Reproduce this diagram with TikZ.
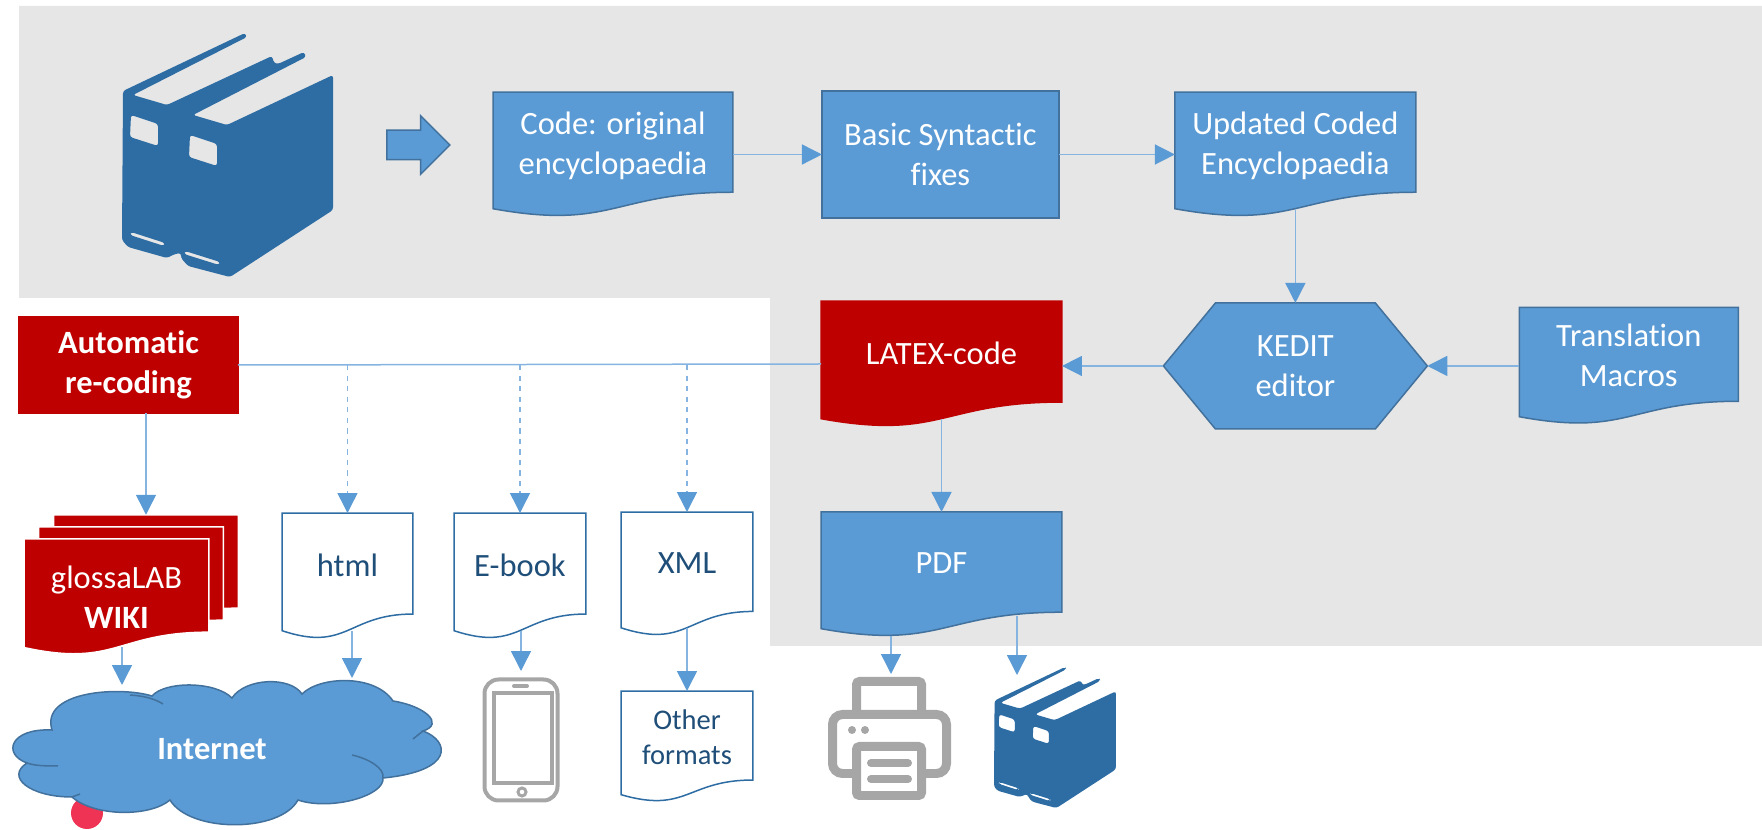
\documentclass[tikz,border=0pt]{standalone}
\usepackage{fontspec}
\setmainfont[Ligatures=NoCommon]{Carlito}
\usepackage {tikz}
\usetikzlibrary{shapes,arrows.meta,positioning}

\definecolor{boxblue}{HTML}{5B9BD5}
\definecolor{edgeblue}{HTML}{41719C}
\definecolor{lineblue}{HTML}{85B4E1}
\definecolor{bookblue}{HTML}{2E6DA4}
\definecolor{inkblue}{HTML}{1F4E79}
\definecolor{bgrey}{HTML}{E6E6E6}
\definecolor{icongrey}{HTML}{A6A6A6}
\definecolor{deepred}{HTML}{BF0000}
\definecolor{dotred}{HTML}{EE3355}

\newdimen\wavel \newdimen\waver \newdimen\wavet \newdimen\waveh \newdimen\wavem \newdimen\wavew
\makeatletter
\def\wavesetup{%
  \southwest \wavel=\pgf@x \waveh=-\pgf@y
  \northeast \waver=\pgf@x \wavet=\pgf@y
  \advance\waveh by \wavet
  \wavem=.5\wavel \advance\wavem by .5\waver
  \wavew=\waver \advance\wavew by -\wavel}
\pgfdeclareshape{docwave}{
  \inheritsavedanchors[from=rectangle]
  \inheritanchorborder[from=rectangle]
  \inheritanchor[from=rectangle]{center}
  \inheritanchor[from=rectangle]{north}
  \inheritanchor[from=rectangle]{south}
  \inheritanchor[from=rectangle]{west}
  \inheritanchor[from=rectangle]{east}
  \anchor{wave}{\wavesetup \pgfqpoint{\wavem}{\dimexpr\wavet-.933\waveh\relax}}
  \backgroundpath{
    \wavesetup
    \pgfpathmoveto{\pgfqpoint{\wavel}{\wavet}}
    \pgfpathlineto{\pgfqpoint{\waver}{\wavet}}
    \pgfpathlineto{\pgfqpoint{\waver}{\dimexpr\wavet-.802\waveh\relax}}
    \pgfpathcurveto{\pgfqpoint{\wavem}{\dimexpr\wavet-.802\waveh\relax}}
      {\pgfqpoint{\wavem}{\dimexpr\wavet-1.1075\waveh\relax}}
      {\pgfqpoint{\wavel}{\dimexpr\wavet-.934\waveh\relax}}
    \pgfpathclose
  }
}
\pgfdeclareshape{hexbox}{
  \inheritsavedanchors[from=rectangle]
  \inheritanchorborder[from=rectangle]
  \inheritanchor[from=rectangle]{center}
  \inheritanchor[from=rectangle]{north}
  \inheritanchor[from=rectangle]{south}
  \inheritanchor[from=rectangle]{west}
  \inheritanchor[from=rectangle]{east}
  \backgroundpath{
    \wavesetup
    \pgfpathmoveto{\pgfqpoint{\wavel}{\dimexpr\wavet-.5\waveh\relax}}
    \pgfpathlineto{\pgfqpoint{\dimexpr\wavel+.197\wavew\relax}{\wavet}}
    \pgfpathlineto{\pgfqpoint{\dimexpr\waver-.197\wavew\relax}{\wavet}}
    \pgfpathlineto{\pgfqpoint{\waver}{\dimexpr\wavet-.5\waveh\relax}}
    \pgfpathlineto{\pgfqpoint{\dimexpr\waver-.197\wavew\relax}{\dimexpr\wavet-\waveh\relax}}
    \pgfpathlineto{\pgfqpoint{\dimexpr\wavel+.197\wavew\relax}{\dimexpr\wavet-\waveh\relax}}
    \pgfpathclose
  }
}
\makeatother

\tikzset{
  bookicon/.pic={
    \fill [bookblue, even odd rule, rounded corners=1.5pt, shift={(-122,-33)}]
      (123,91) -- (245,33) -- (247,37) -- (133,95) -- (167,105) -- (272,56) -- (274,63)
      -- (278,64) -- (304,52) -- (306,57) -- (193,115) -- (227,125) -- (333,75) -- (333,210)
      -- (230,277) -- (188,266) -- (181,258) -- (181,253) -- (175,254) -- (167,258)
      -- (128,247) -- (122,240) -- cycle
      (131,115) -- (158,124) -- (158,146) -- (130,137) -- cycle
      (190,135) -- (217,144) -- (217,166) -- (189,157) -- cycle
      (131,232) -- (165,243) -- (164,246) -- (130,235) -- cycle
      (185,251) -- (220,262) -- (219,265) -- (184,254) -- cycle;
  }
}

\begin{document}
\begin{tikzpicture}[->,>={Triangle[length=0.4cm,width=0.4cm,color=boxblue]},
x=0.02cm, y=-0.02cm, line width = 0.03cm,
every edge/.append style={draw=lineblue},
boxsize/.style 2 args={minimum width=#1cm, minimum height=#2cm},
plain/.style={outer sep=0pt, inner sep=0pt, align=center, font=\fontsize{18.5}{22.8}\selectfont},
bluedoc/.style={plain, shape=docwave, draw=edgeblue, fill=boxblue, text=white, text depth=0.44cm},
reddoc/.style={plain, shape=docwave, draw=deepred, fill=deepred, text=white, text depth=0.44cm},
whitedoc/.style={plain, shape=docwave, draw=bookblue, fill=white, text=inkblue, text depth=0.44cm},
wikisheet/.style={plain, shape=docwave, draw=white, fill=deepred, text=white, boxsize={3.7}{2.33}},
bluebox/.style={plain, rectangle, draw=edgeblue, fill=boxblue, text=white},
icon/.style={-, draw=icongrey, line width=0.18cm, rounded corners=0.2cm}]

\useasboundingbox (0,0) rectangle (1762,830);
\fill [bgrey] (19,6) -- (1762,6) -- (1762,646) -- (770,646) -- (770,298) -- (19,298) -- cycle;

\pic at (122,33) {bookicon};
\node [single arrow, draw=edgeblue, fill=boxblue, inner sep=0.28cm, minimum width=1.14cm, minimum height=1.26cm,
single arrow head extend=0.29cm] (bigarrow) at (411,145) {};

\node [bluedoc, boxsize={4.8}{2.5}] (code) at (613,154.5) {Code: original\\encyclopaedia};
\node [bluebox, boxsize={4.74}{2.54}] (basic) [right of=code, node distance=6.55cm] {Basic Syntactic\\fixes};
\node [bluedoc, boxsize={4.82}{2.5}] (updated) [right of=basic, node distance=7.1cm] {Updated Coded\\Encyclopaedia};
\path (code) edge (basic);
\path (basic) edge (updated);

\node [plain, shape=hexbox, draw=edgeblue, fill=boxblue, text=white, boxsize={5.28}{2.52}] (kedit) [below of=updated, node distance=4.23cm] {KEDIT\\editor};
\node [bluedoc, boxsize={4.38}{2.34}] (macros) [right of=kedit, node distance=6.67cm] {Translation\\Macros};
\path (updated.wave) edge (kedit.north);
\path (macros) edge (kedit.east);

\node [reddoc, boxsize={4.82}{2.52}] (latex) at (941.5,364) {LATEX-code};
\node [bluedoc, boxsize={4.82}{2.5}] (pdf) [below of=latex, node distance=4.21cm] {PDF};
\path (kedit.west) edge (kedit.west -| latex.east);
\path (latex.wave) edge (pdf.north);

\node [plain, rectangle, draw=deepred, fill=deepred, text=white, font=\fontsize{18.5}{22.8}\selectfont\bfseries,
boxsize={4.38}{1.92}] (recode) at (128.5,365) {Automatic\\re-coding};
\path (latex.west) edge [-] (recode.east);

\node [wikisheet] (wikiback) at (146,573) {};
\node [wikisheet] (wikimid) at (131,585) {};
\node [wikisheet] (wiki) at (116.5,597) {glossaLAB\\\textbf{WIKI}};
\path (recode.south -| wikiback.north) edge (wikiback.north);

\node [whitedoc, boxsize={2.62}{2.52}] (html) at (347.5,576) {html};
\node [whitedoc, boxsize={2.64}{2.52}] (ebook) at (520,576) {E-book};
\node [whitedoc, boxsize={2.64}{2.48}] (xml) at (687,574) {XML};
\node [whitedoc, boxsize={2.64}{2.22}, font=\fontsize{16.2}{19.9}\selectfont, text depth=0.36cm] (other) at (687,746.5) {Other\\formats};
\path (html.north |- recode.east) edge [dashed] (html.north);
\path (ebook.north |- recode.east) edge [dashed] (ebook.north);
\path (xml.north |- recode.east) edge [dashed] (xml.north);
\path (xml.wave) edge (other.north);

\fill [dotred] (87,813) circle (16);
\draw [-, draw=edgeblue, fill=boxblue] (27,763) .. controls (2,754) and (10,728) .. (52,730)
.. controls (40,691) and (120,686) .. (152,696) .. controls (165,681) and (215,681) .. (232,698)
.. controls (245,678) and (290,676) .. (302,694) .. controls (320,676) and (375,674) .. (393,701)
.. controls (425,706) and (445,724) .. (423,731) .. controls (450,741) and (455,771) .. (383,778)
.. controls (385,796) and (330,811) .. (298,800) .. controls (280,833) and (190,833) .. (170,800)
.. controls (150,817) and (95,817) .. (72,797) .. controls (30,797) and (5,777) .. (27,763) -- cycle;
\draw [-, draw=edgeblue] (130,695) .. controls (145,696) and (155,699) .. (163,704);
\draw [-, draw=edgeblue] (27,763) .. controls (35,766) and (48,766) .. (58,766);
\draw [-, draw=edgeblue] (352,755) .. controls (370,759) and (385,769) .. (383,778);
\draw [-, draw=edgeblue] (423,731) -- (413,739);
\draw [-, draw=edgeblue] (72,797) -- (80,794);
\node [plain, text=white, font=\fontsize{18.5}{22.8}\selectfont\bfseries] (internet) at (212,749) {Internet};

\coordinate (wikitip) at (122,685);
\coordinate (htmltip) at (352,678);
\coordinate (phonetip) at (521,671);
\coordinate (pdfleft) at (891,636);
\coordinate (pdfright) at (1017,616);
\coordinate (printertip) at (891,674);
\coordinate (booktip) at (1017,675);
\path (wikitip |- wiki.wave) edge (wikitip);
\path (htmltip |- html.wave) edge (htmltip);
\path (phonetip |- ebook.wave) edge (phonetip);
\path (pdfleft) edge (printertip);
\path (pdfright) edge (booktip);

\draw [icon, line width=0.08cm, rounded corners=0.28cm] (484.5,679.5) rectangle (557.5,800.5);
\draw [icon, line width=0.08cm, rounded corners=0pt] (493.5,693) rectangle (551.5,783);
\draw [icon, line width=0.08cm, line cap=round] (514,686) -- (527,686);
\draw [icon, line width=0.06cm] (522,792) circle (4);

\draw [icon, rounded corners=0.06cm] (856.5,712) -- (856.5,681.5) -- (921.5,681.5) -- (921.5,712);
\draw [icon] (852,773.5) -- (832.5,773.5) -- (832.5,714.5) -- (946.5,714.5) -- (946.5,773.5) -- (926,773.5);
\draw [icon, rounded corners=0.06cm] (856.5,746.5) rectangle (921.5,795.5);
\draw [icon, line width=0.16cm, line cap=round] (871,763) -- (908,763);
\draw [icon, line width=0.16cm, line cap=round] (871,779) -- (908,779);
\fill [icongrey] (852,730) circle (4) (865,730) circle (4);

\pic [scale=0.578] at (994,667) {bookicon};
\end{tikzpicture}
\end{document}
